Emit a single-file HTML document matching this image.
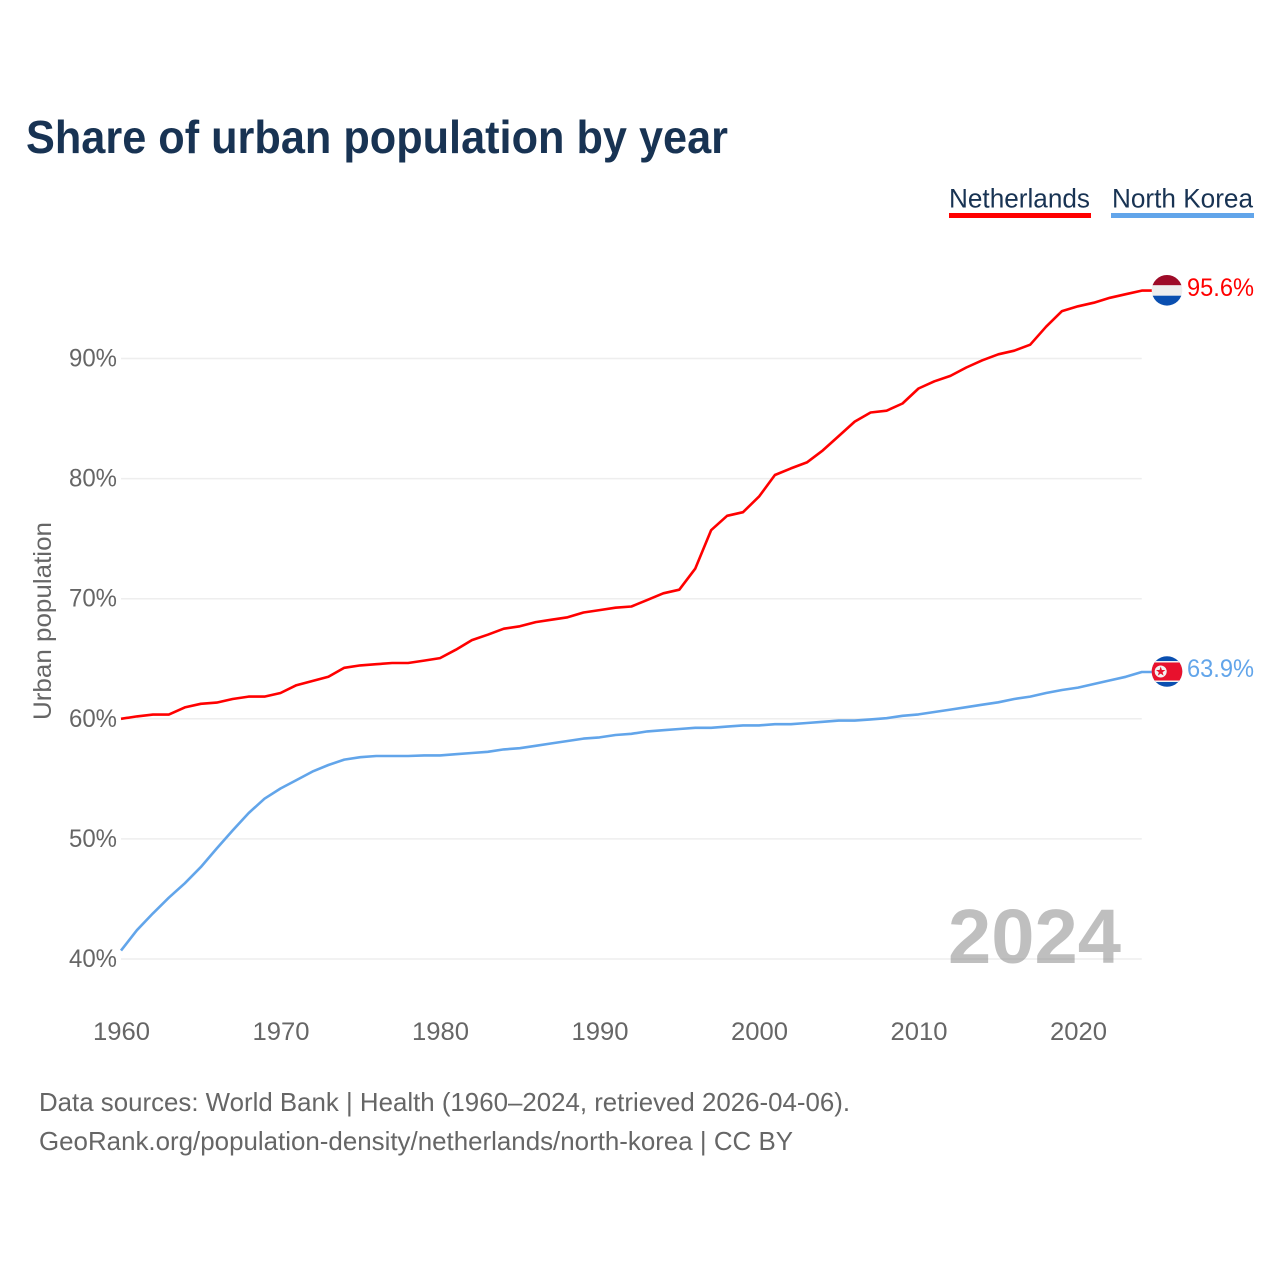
<!DOCTYPE html>
<html lang="en">
<head>
<meta charset="utf-8">
<title>Share of urban population by year</title>
<style>
html,body{margin:0;padding:0;background:#fff;width:1280px;height:1280px;overflow:hidden}
svg{display:block}
text{font-family:"Liberation Sans",sans-serif}
</style>
</head>
<body>
<svg id="chart" xmlns="http://www.w3.org/2000/svg" width="1280" height="1280" viewBox="0 0 1280 1280">
  <defs>
    <clipPath id="nl-clip"><circle cx="1167" cy="290.3" r="15.3"/></clipPath>
    <clipPath id="kp-clip"><circle cx="1167" cy="671.5" r="15.3"/></clipPath>
  </defs>
  <text x="26" y="153" font-size="46" font-weight="700" fill="#183353" textLength="702" lengthAdjust="spacingAndGlyphs">Share of urban population by year</text>

  <g>
    <g>
      <text x="949" y="207.5" font-size="27" fill="#183353" textLength="141" lengthAdjust="spacingAndGlyphs">Netherlands</text>
      <rect x="949" y="213" width="142" height="5" fill="#ff0000"/>
    </g>
    <g>
      <text x="1112" y="207.5" font-size="27" fill="#183353" textLength="141" lengthAdjust="spacingAndGlyphs">North Korea</text>
      <rect x="1111" y="213" width="143" height="5" fill="#62a5ea"/>
    </g>
  </g>

  <g id="grid"></g>
  <g id="yticks"></g>
  <g id="xticks"></g>
  <text transform="translate(51,720) rotate(-90)" font-size="25" fill="#666666" textLength="198" lengthAdjust="spacingAndGlyphs">Urban population</text>

  <text x="948" y="963" font-size="77" font-weight="700" fill="#808080" fill-opacity="0.5" textLength="173" lengthAdjust="spacingAndGlyphs">2024</text>

  <g id="series"></g>

  <g clip-path="url(#nl-clip)">
    <rect x="1150" y="274" width="34" height="11.3" fill="#9e0b28"/>
    <rect x="1150" y="285.3" width="34" height="10.4" fill="#eeeeee"/>
    <rect x="1150" y="295.7" width="34" height="11" fill="#0a4fb0"/>
  </g>
  <g clip-path="url(#kp-clip)">
    <rect x="1150" y="655" width="34" height="33" fill="#0a4fb0"/>
    <rect x="1150" y="661" width="34" height="21" fill="#f2f2f2"/>
    <rect x="1150" y="662.5" width="34" height="18" fill="#e8112d"/>
    <circle cx="1160.7" cy="671.5" r="6" fill="#f2f2f2"/>
    <polygon points="1160.7,666.6 1161.9,670 1165.4,670 1162.6,672.2 1163.6,675.6 1160.7,673.6 1157.8,675.6 1158.8,672.2 1156,670 1159.5,670" fill="#e8112d"/>
  </g>

  <text id="label-nl" x="1187" y="296" font-size="25" fill="#ff0000" textLength="67" lengthAdjust="spacingAndGlyphs"></text>
  <text id="label-kp" x="1187" y="677" font-size="25" fill="#62a5ea" textLength="67" lengthAdjust="spacingAndGlyphs"></text>

  <g>
    <text x="39" y="1111" font-size="26" fill="#666666" textLength="811" lengthAdjust="spacingAndGlyphs">Data sources: World Bank | Health (1960–2024, retrieved 2026-04-06).</text>
    <text x="39" y="1150" font-size="26" fill="#666666" textLength="754" lengthAdjust="spacingAndGlyphs">GeoRank.org/population-density/netherlands/north-korea | CC BY</text>
  </g>
</svg>
<script>
const startYear = 1960;
const netherlandsValues = [60.0,60.2,60.35,60.35,60.95,61.25,61.35,61.65,61.85,61.85,62.15,62.8,63.15,63.5,64.25,64.45,64.55,64.65,64.65,64.85,65.05,65.75,66.55,67.0,67.5,67.7,68.05,68.25,68.45,68.85,69.05,69.25,69.35,69.9,70.45,70.75,72.5,75.7,76.9,77.2,78.5,80.3,80.85,81.35,82.35,83.55,84.75,85.5,85.65,86.25,87.5,88.1,88.55,89.25,89.85,90.35,90.65,91.15,92.65,93.95,94.35,94.65,95.05,95.35,95.65];
const northKoreaValues = [40.7,42.4,43.8,45.1,46.3,47.65,49.2,50.7,52.15,53.35,54.2,54.9,55.6,56.15,56.6,56.8,56.9,56.9,56.9,56.95,56.95,57.05,57.15,57.25,57.45,57.55,57.75,57.95,58.15,58.35,58.45,58.65,58.75,58.95,59.05,59.15,59.25,59.25,59.35,59.45,59.45,59.55,59.55,59.65,59.75,59.85,59.85,59.95,60.05,60.25,60.37,60.57,60.77,60.97,61.17,61.37,61.65,61.85,62.15,62.4,62.6,62.9,63.2,63.5,63.9];
const yTickValues = [40,50,60,70,80,90];
const xTickYears = [1960,1970,1980,1990,2000,2010,2020];
const endLabelNetherlands = "95.6%";
const endLabelNorthKorea = "63.9%";

const NS = "http://www.w3.org/2000/svg";
function xScale(year){ return 121 + (year - 1960) * 15.95; }
function yScale(value){ return 959 - (value - 40) * 12.01; }

const grid = document.getElementById("grid");
const yticks = document.getElementById("yticks");
const xticks = document.getElementById("xticks");
const series = document.getElementById("series");

yTickValues.forEach(function(v){
  const line = document.createElementNS(NS,"line");
  
  
  line.setAttribute("x1", 121);
  line.setAttribute("x2", xScale(2024));
  line.setAttribute("y1", yScale(v));
  line.setAttribute("y2", yScale(v));
  line.setAttribute("stroke", "#eeeeee");
  line.setAttribute("stroke-width", "1.5");
  grid.appendChild(line);

  const t = document.createElementNS(NS,"text");
  
  
  t.setAttribute("x", 69);
  t.setAttribute("y", yScale(v) + 8);
  t.setAttribute("font-size", "25");
  t.setAttribute("fill", "#666666");
  t.setAttribute("textLength", "48");
  t.setAttribute("lengthAdjust", "spacingAndGlyphs");
  t.textContent = v + "%";
  yticks.appendChild(t);
});

xTickYears.forEach(function(y){
  const t = document.createElementNS(NS,"text");
  
  
  t.setAttribute("x", xScale(y) - 28);
  t.setAttribute("y", 1040);
  t.setAttribute("font-size", "25");
  t.setAttribute("fill", "#666666");
  t.setAttribute("textLength", "57");
  t.setAttribute("lengthAdjust", "spacingAndGlyphs");
  t.textContent = y;
  xticks.appendChild(t);
});

function drawSeries(values, color, name){
  const pts = values.map(function(v,i){ return xScale(startYear + i).toFixed(1) + "," + yScale(v).toFixed(1); });
  const last = values[values.length - 1];
  pts.push("1153," + yScale(last).toFixed(1));
  const p = document.createElementNS(NS,"polyline");
  
  
  p.setAttribute("points", pts.join(" "));
  p.setAttribute("fill", "none");
  p.setAttribute("stroke", color);
  p.setAttribute("stroke-width", "2.6");
  p.setAttribute("stroke-linejoin", "round");
  series.appendChild(p);
}
drawSeries(netherlandsValues, "#ff0000", "line-netherlands");
drawSeries(northKoreaValues, "#62a5ea", "line-north-korea");

document.getElementById("label-nl").textContent = endLabelNetherlands;
document.getElementById("label-kp").textContent = endLabelNorthKorea;
</script>
</body>
</html>
